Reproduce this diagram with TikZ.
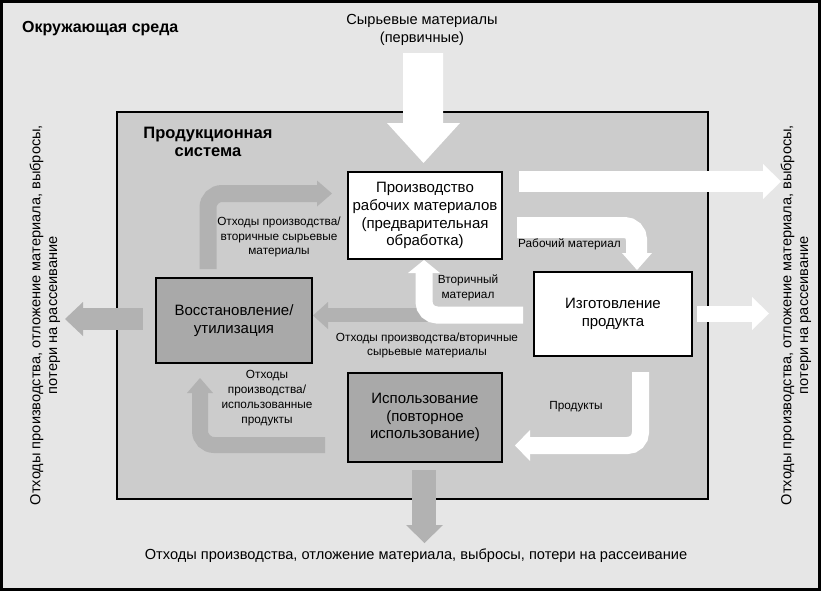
\documentclass[tikz,border=0pt]{standalone}
\usepackage{fontspec}
\setmainfont{Liberation Sans}
\definecolor{envbg}{RGB}{230,230,230}
\definecolor{sysbg}{RGB}{204,204,204}
\definecolor{boxgray}{RGB}{169,169,169}
\definecolor{arrowgray}{RGB}{178,178,178}
\begin{document}
\begin{tikzpicture}[x=1pt,y=-1pt,
  frame/.style={draw=black, line width=2.5pt, inner sep=0pt},
  boxw/.style={draw=black, line width=2pt, fill=white, inner sep=0pt, align=center, font=\fontsize{15}{17.8}\selectfont},
  boxg/.style={boxw, fill=boxgray},
  lbl/.style={inner sep=0pt, align=center, font=\fontsize{11.8}{14.8}\selectfont},
  big/.style={inner sep=0pt, align=center, font=\fontsize{14.6}{18}\selectfont},
  side/.style={inner sep=0pt, align=center, rotate=90, font=\fontsize{14.6}{16.8}\selectfont},
  ttl/.style={inner sep=0pt, align=center, font=\bfseries\fontsize{16}{18}\selectfont},
  wfill/.style={fill=white},
  gfill/.style={fill=arrowgray},
  wbend/.style={draw=white, line cap=butt},
  gbend/.style={draw=arrowgray, line cap=butt}
]
\useasboundingbox (0,0) rectangle (823,592);
\fill[white] (0,0) rectangle (823,592);
% frames
\node[frame, fill=envbg, minimum width=818pt, minimum height=588pt] (env) at (410.5,295.5) {};
\node[frame, fill=sysbg, minimum width=591pt, minimum height=387pt] (sys) at (412.5,305.5) {};

% gray arrows
% A5: from Izgotovlenie to Vosstanovlenie (partly hidden)
\fill[gfill] (430,308) rectangle (327,322);
\fill[gfill] (328,302) -- (328,329) -- (313,315.5) -- cycle;
% A6: Vosstanovlenie up to Proizvodstvo
\coordinate (a6s) at (208,269);
\coordinate (a6c) at (208,193.5);
\coordinate (a6e) at (318,193.5);
\draw[gbend, line width=17pt, rounded corners=14pt] (a6s) -- (a6c) -- (a6e);
\fill[gfill] (317,180.5) -- (332,193.5) -- (317,206.5) -- cycle;
% A7: Ispolzovanie to Vosstanovlenie
\coordinate (a7s) at (325,445);
\coordinate (a7c) at (200,445);
\coordinate (a7e) at (200,392);
\draw[gbend, line width=16pt, rounded corners=14pt] (a7s) -- (a7c) -- (a7e);
\fill[gfill] (187,393) -- (213,393) -- (200,378) -- cycle;
% A10: left out
\fill[gfill] (143,308) rectangle (82,330);
\fill[gfill] (83,302) -- (83,336) -- (65,319) -- cycle;
% A11: down out
\fill[gfill] (412,470) rectangle (436,526);
\fill[gfill] (406,525) -- (443,525) -- (424.5,543) -- cycle;

% white arrows
% A1: raw materials down
\fill[wfill] (403,53) -- (443,53) -- (443,123) -- (460,123) -- (423.5,163) -- (387,123) -- (403,123) -- cycle;
% A2: right out from Proizvodstvo
\fill[wfill] (519,171) rectangle (764,192);
\fill[wfill] (763,164) -- (781,181.5) -- (763,199) -- cycle;
% A3: working material
\coordinate (a3s) at (517,227.5);
\coordinate (a3c) at (636.5,227.5);
\coordinate (a3e) at (636.5,254);
\draw[wbend, line width=21pt, rounded corners=12pt] (a3s) -- (a3c) -- (a3e);
\fill[wfill] (622,253) -- (652,253) -- (637,270) -- cycle;
% A4: secondary material
\coordinate (a4s) at (523,315);
\coordinate (a4c) at (424,315);
\coordinate (a4e) at (424,272);
\draw[wbend, line width=17pt, rounded corners=13pt] (a4s) -- (a4c) -- (a4e);
\fill[wfill] (408,273) -- (440,273) -- (424,260) -- cycle;
% A8: products
\coordinate (a8s) at (640.5,372);
\coordinate (a8c) at (640.5,445.5);
\coordinate (a8e) at (529,445.5);
\draw[wbend, line width=17pt, rounded corners=13pt] (a8s) -- (a8c) -- (a8e);
\fill[wfill] (530,430) -- (530,461) -- (515,445.5) -- cycle;
% A9: right out from Izgotovlenie
\fill[wfill] (697,305.5) rectangle (753,322);
\fill[wfill] (752,297) -- (769,313.5) -- (752,330) -- cycle;

% boxes
\node[boxw, minimum width=154pt, minimum height=87pt] (b1) at (425,215.5) {Производство\\рабочих материалов\\(предварительная\\обработка)};
\node[boxw, minimum width=158pt, minimum height=84pt] (b2) at (613,314) {Изготовление\\продукта};
\node[boxg, minimum width=156pt, minimum height=85pt] (b3) at (234,320.5) {Восстановление/\\утилизация};
\node[boxg, minimum width=154pt, minimum height=89pt] (b4) at (425,417.5) {Использование\\(повторное\\использование)};

% labels
\node[ttl, anchor=west] (envt) at (22,29) {Окружающая среда};
\node[ttl, font=\bfseries\fontsize{16.5}{18.5}\selectfont] (syst) at (208,142) {Продукционная\\система};
\node[big] (raw) at (422,30) {Сырьевые материалы\\(первичные)};
\node[lbl] (l6) at (279,237) {Отходы производства/\\вторичные сырьевые\\материалы};
\node[lbl, anchor=west] (l3) at (518,244) {Рабочий материал};
\node[lbl] (l4) at (468,288) {Вторичный\\материал};
\node[lbl] (l5) at (427,345.5) {Отходы производства/вторичные\\сырьевые материалы};
\node[lbl] (l7) at (267,398) {Отходы\\производства/\\использованные\\продукты};
\node[lbl] (l8) at (576,407) {Продукты};
\node[big] (bot) at (416,556) {Отходы производства, отложение материала, выбросы, потери на рассеивание};
\node[side] (lft) at (45,315) {Отходы производства, отложение материала, выбросы,\\потери на рассеивание};
\node[side] (rgt) at (796,315) {Отходы производства, отложение материала, выбросы,\\потери на рассеивание};
\end{tikzpicture}
\end{document}
